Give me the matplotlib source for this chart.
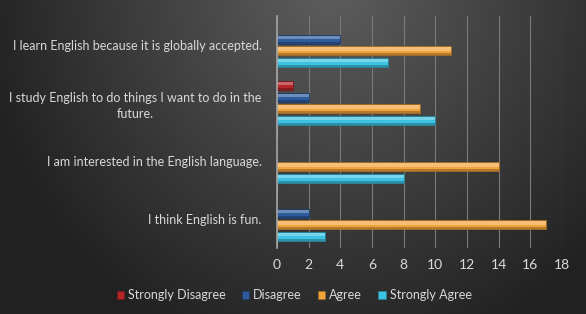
import numpy as np
import matplotlib
matplotlib.use("Agg")
import matplotlib.pyplot as plt
from matplotlib.colors import to_rgb

categories = ["I think English is fun.",
              "I am interested in the English language.",
              "I study English to do things I want to do in the\nfuture.",
              "I learn English because it is globally accepted."]
series_names = ["Strongly Disagree", "Disagree", "Agree", "Strongly Agree"]
strongly_disagree = [0, 0, 1, 0]
disagree = [2, 0, 2, 4]
agree = [17, 14, 9, 11]
strongly_agree = [3, 8, 10, 7]
xticks = [0, 2, 4, 6, 8, 10, 12, 14, 16, 18]

colors = ["#b3262a", "#2d5b9b", "#f2a33a", "#3cc3e3"]
values = [strongly_disagree, disagree, agree, strongly_agree]
offsets = [0.3, 0.1, -0.1, -0.3]

plt.rcParams['font.family'] = ['Lato', 'DejaVu Sans']
fig = plt.figure(figsize=(5.86, 3.14), dpi=100)

# background gradient
bg = fig.add_axes([0, 0, 1, 1], zorder=-10)
H, W = 314, 586
yy, xx = np.mgrid[0:H, 0:W]
d = np.sqrt(((xx - 330) / 330.0) ** 2 + ((yy + 20) / 360.0) ** 2)
g = np.clip(0.37 - 0.22 * d, 0.13, 0.4)
img = np.dstack([g, g, g])
bg.imshow(img, aspect='auto', extent=[0, 1, 0, 1])
bg.axis('off')

ax = fig.add_axes([277 / 586, 1 - 248 / 314, (562 - 277) / 586, (248 - 16) / 314])
ax.patch.set_alpha(0)
y = np.arange(len(categories))
h = 0.155

def lighten(c, f):
    r = np.array(to_rgb(c))
    return tuple(r + (1 - r) * f)

def darken(c, f):
    r = np.array(to_rgb(c))
    return tuple(r * (1 - f))

for name, vals, col, off in zip(series_names, values, colors, offsets):
    pos = y + off
    ax.barh(pos, vals, height=h, color=col, edgecolor=darken(col, 0.35), linewidth=0.6, zorder=3, label=name)
    ax.barh(pos + h * 0.2, vals, height=h * 0.35, color=lighten(col, 0.3), linewidth=0, zorder=4)
    ax.barh(pos - h * 0.38, vals, height=h * 0.2, color=darken(col, 0.25), linewidth=0, zorder=4)

ax.set_xlim(0, 18)
ax.set_ylim(-0.5, 3.5)
ax.set_xticks(xticks)
ax.set_xticklabels([str(t) for t in xticks], color="#d9d9d9", fontsize=10)
ax.set_yticks(y)
ax.set_yticklabels(categories, color="#d9d9d9", fontsize=9, ha='right', multialignment='center',
                   linespacing=1.4)
ax.tick_params(axis='y', length=0, pad=11)
ax.tick_params(axis='x', length=0, pad=8)
ax.grid(axis='x', color="#7a7a7a", linewidth=0.8, zorder=0)
for s in ['top', 'right', 'bottom']:
    ax.spines[s].set_visible(False)
ax.spines['left'].set_color("#a6a6a6")
ax.spines['left'].set_linewidth(1.2)
ax.spines['left'].set_zorder(5)

handles = [plt.Rectangle((0, 0), 1, 1, facecolor=c, edgecolor=darken(c, 0.35), linewidth=0.5) for c in colors]
leg = fig.legend(handles, series_names, loc='center', bbox_to_anchor=(294 / 586, 1 - 295 / 314), ncol=4,
                 frameon=False, fontsize=9, handlelength=0.6, handleheight=0.6, handletextpad=0.3,
                 columnspacing=1.3, labelcolor="#d9d9d9")

fig.savefig("out.png", dpi=100)
